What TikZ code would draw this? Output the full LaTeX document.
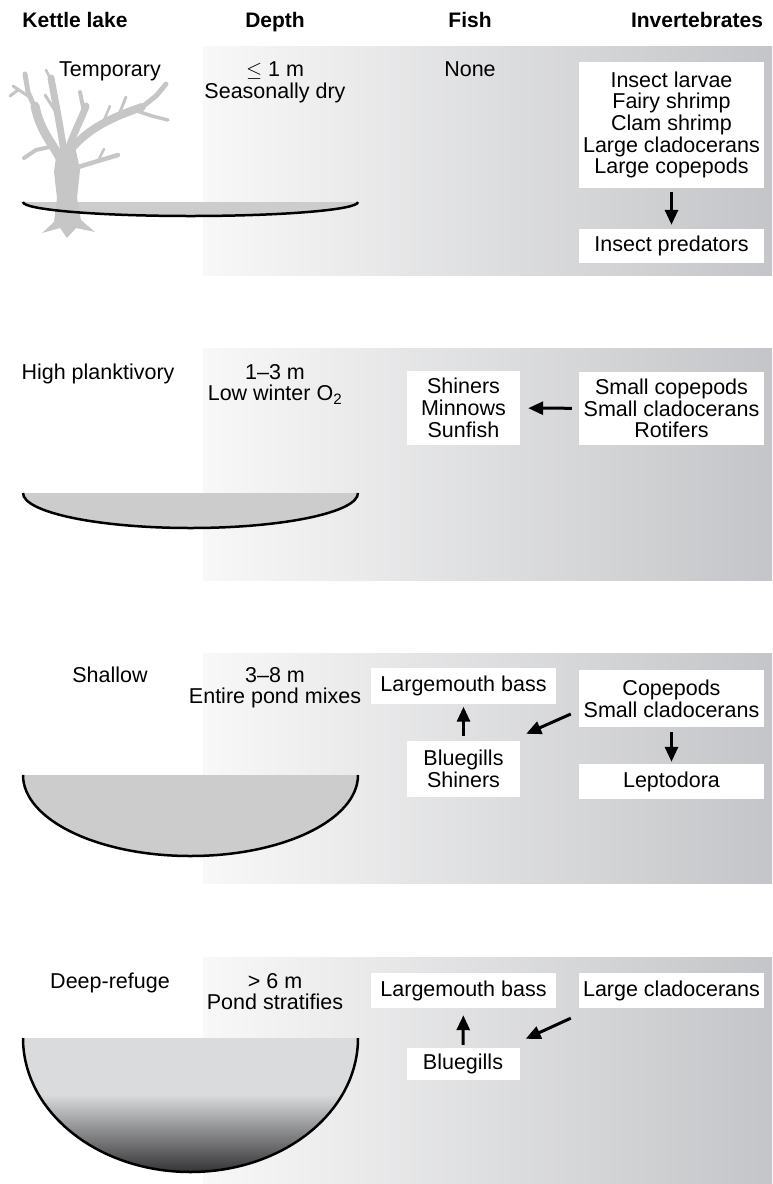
\documentclass[tikz,border=0pt]{standalone}
\usepackage{fontspec}
\setmainfont{Liberation Sans}
\usetikzlibrary{arrows.meta}

\definecolor{bandlight}{RGB}{248,248,248}
\definecolor{bandgray}{RGB}{196,197,200}
\definecolor{lakegray}{RGB}{204,204,204}
\definecolor{treegray}{RGB}{198,198,198}
\definecolor{deeptop}{RGB}{218,219,221}
\definecolor{deepbot}{RGB}{52,52,55}

% light water on top, dark water below the thermocline
\pgfdeclareverticalshading{deeplake}{100bp}{color(0bp)=(deepbot); color(25bp)=(deepbot); color(54bp)=(deeptop); color(100bp)=(deeptop)}

\tikzset{
  head/.style={font=\bfseries\fontsize{21}{22}\selectfont, anchor=north, inner sep=0pt},
  txt/.style={font=\fontsize{21.5}{21.7}\selectfont, align=center, anchor=north, inner sep=0pt},
  foodbox/.style={font=\fontsize{21.5}{21.7}\selectfont, align=center, fill=white, inner sep=0pt, minimum width=185pt},
  narrowbox/.style={foodbox, minimum width=113pt},
  feeds/.style={-{Triangle[length=15pt,width=13pt]}, line width=3pt},
  band/.style={left color=bandlight, right color=bandgray},
  shore/.style={line width=2.5pt},
}

\begin{document}
\begin{tikzpicture}[x=1pt,y=-1pt]
		%%%%% START %%%%%
		\useasboundingbox (0,0) rectangle (772,1184);
		
		% column heads
		\node[head] (hLake) at (75,12) {Kettle lake};
		\node[head] (hDepth) at (275,12) {Depth};
		\node[head] (hFish) at (470,12) {Fish};
		\node[head] (hInv) at (697,12) {Invertebrates};
		
		% grey bands behind each row
		\foreach \top/\bot in {46/275, 348/580, 653/883, 957/1184}
			\shade[band] (203,\top) rectangle (772,\bot);
		
		%% temporary pond
		\fill[lakegray] (23,202) arc[start angle=180, end angle=360, x radius=167.5pt, y radius=14pt] -- cycle;
		
		% dead tree
		\begin{scope}[treegray, line cap=round, line join=round]
			\fill (42,233) -- (54,222) -- (57,198) -- (54,172) -- (57,150) -- (75,146) -- (80,170) -- (77,198) -- (81,220) -- (95,232) -- (76,228) -- (67,238) -- (60,228) -- cycle;
			\draw[line width=9pt] (60,158) .. controls (50,140) and (40,130) .. (35,106);
			\draw[line width=5pt] (35,108) -- (28,92) -- (25,74);
			\draw[line width=3pt] (31,98) -- (13,86);
			\draw[line width=3pt] (18,90) -- (10,96);
			\draw[line width=4pt] (54,146) -- (36,150) -- (24,158);
			\draw[line width=7pt] (64,152) .. controls (60,125) and (55,100) .. (51,78);
			\draw[line width=3pt] (56,112) -- (45,95);
			\draw[line width=2.5pt] (51,80) -- (46,70);
			\draw[line width=7pt] (68,150) .. controls (74,132) and (82,118) .. (86,106);
			\draw[line width=4pt] (84,112) -- (80,92);
			\draw[line width=8pt] (72,148) .. controls (90,128) and (110,118) .. (142,107);
			\draw[line width=5pt] (142,107) -- (156,96) -- (166,84);
			\draw[line width=3.5pt] (134,110) -- (152,116) -- (168,120);
			\draw[line width=3pt] (120,112) -- (126,97);
			\draw[line width=2.5pt] (104,120) -- (110,106);
			\draw[line width=4.5pt] (75,168) -- (98,161) -- (118,155);
			\draw[line width=2.5pt] (98,161) -- (104,149);
		\end{scope}
		
		\draw[shore] (23,202) arc[start angle=180, end angle=360, x radius=167.5pt, y radius=14pt];
		
		\node[txt] (kind1) at (110,62) {Temporary};
		\node[txt] (depth1) at (275,62) {$\le$ 1 m\\Seasonally dry};
		\node[txt] (fish1) at (470,62) {None};
		
		\node[foodbox, minimum height=126pt] (inv1) at (671.5,125) {Insect larvae\\Fairy shrimp\\Clam shrimp\\Large cladocerans\\Large copepods};
		\node[foodbox, minimum height=34pt] (pred1) at (671.5,246) {Insect predators};
		\draw[feeds, shorten <=4pt, shorten >=4pt] (inv1) -- (pred1);
		
		%% high planktivory pond
		\fill[lakegray] (23,493) arc[start angle=180, end angle=360, x radius=167.5pt, y radius=35pt] -- cycle;
		\draw[shore] (23,493) arc[start angle=180, end angle=360, x radius=167.5pt, y radius=35pt];
		
		\node[txt] (kind2) at (98,364) {High planktivory};
		\node[txt] (depth2) at (275,364) {1--3 m\\Low winter O\textsubscript{2}};
		
		\node[narrowbox, minimum height=74pt] (fish2) at (463.5,408) {Shiners\\Minnows\\Sunfish};
		\node[foodbox, minimum height=73pt] (inv2) at (671.5,408.5) {Small copepods\\Small cladocerans\\Rotifers};
		\draw[feeds, shorten <=7pt, shorten >=8pt] (inv2) -- (fish2);
		
		%% shallow pond
		\fill[lakegray] (23,775) arc[start angle=180, end angle=360, x radius=167.5pt, y radius=81pt] -- cycle;
		\draw[shore] (23,775) arc[start angle=180, end angle=360, x radius=167.5pt, y radius=81pt];
		
		\node[txt] (kind3) at (110,667) {Shallow};
		\node[txt] (depth3) at (275,667) {3--8 m\\Entire pond mixes};
		
		\node[foodbox, minimum height=36pt] (bass3) at (463.5,685.5) {Largemouth bass};
		\node[narrowbox, minimum height=56pt] (blue3) at (463.5,769) {Bluegills\\Shiners};
		\node[foodbox, minimum height=57pt] (inv3) at (671.5,698.5) {Copepods\\Small cladocerans};
		\node[foodbox, minimum height=35pt] (lepto3) at (671.5,781.5) {Leptodora};
		\draw[feeds, shorten <=5pt, shorten >=3pt] (blue3) -- (bass3);
		\draw[feeds, shorten <=5pt, shorten >=2pt] (inv3) -- (lepto3);
		\draw[feeds] ([xshift=-8pt,yshift=-15.5pt]inv3.west) -- ([xshift=6pt,yshift=7pt]blue3.north east);
		
		%% deep pond with refuge
		\shade[shading=deeplake] (23,1038) arc[start angle=180, end angle=360, x radius=167.5pt, y radius=134pt] -- cycle;
		\draw[shore] (23,1038) arc[start angle=180, end angle=360, x radius=167.5pt, y radius=134pt];
		
		\node[txt] (kind4) at (110,973) {Deep-refuge};
		\node[txt] (depth4) at (275,973) {> 6 m\\Pond stratifies};
		
		\node[foodbox, minimum height=35pt] (bass4) at (463.5,990.5) {Largemouth bass};
		\node[narrowbox, minimum height=32pt] (blue4) at (463,1064) {Bluegills};
		\node[foodbox, minimum height=35pt] (inv4) at (671.5,990.5) {Large cladocerans};
		\draw[feeds, shorten <=3pt, shorten >=7pt] (blue4) -- (bass4);
		\draw[feeds] ([xshift=-8pt,yshift=-10pt]inv4.south west) -- ([xshift=6pt,yshift=9pt]blue4.north east);
		
		%%%%% END %%%%%
\end{tikzpicture}
\end{document}
